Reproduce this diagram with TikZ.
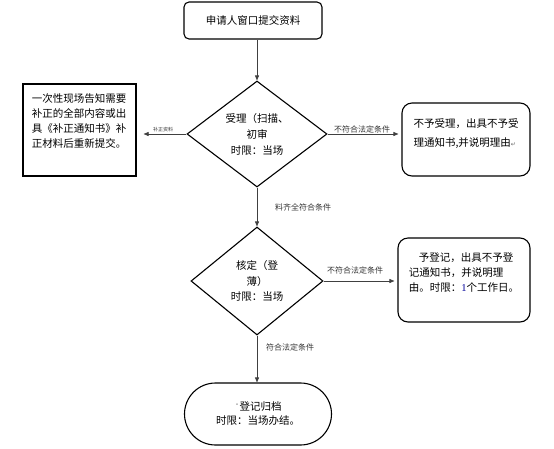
\documentclass[tikz,border=0pt]{standalone}
\usepackage{fontspec}
\setmainfont{Noto Sans CJK SC}
\newfontfamily\dejavu{DejaVu Sans}
\newfontfamily\serifnum{Liberation Serif}
\usetikzlibrary{shapes.geometric,arrows.meta}
\begin{document}
\begin{tikzpicture}[x=1pt,y=-1pt,
  boxline/.style={draw=black,line width=1.1pt,inner sep=0pt},
  rbox/.style={boxline,rounded corners=5pt},
  softbox/.style={boxline,rounded corners=10pt},
  pill/.style={boxline,rounded corners=31pt},
  decision/.style={diamond,draw=black,line width=1.1pt,inner sep=0pt,aspect=1.33,align=center,
     font=\fontsize{10.5pt}{16pt}\selectfont},
  bodytext/.style={inner sep=0pt,align=left,font=\fontsize{10.5pt}{15pt}\selectfont},
  conn/.style={draw=black!75,line width=0.6pt,-{Triangle[length=5pt,width=4pt]}},
  lbl/.style={inner sep=0pt,text=black!80,font=\fontsize{8pt}{9pt}\selectfont}
]
\useasboundingbox (0,0) rectangle (554,448);

% top box
\node[rbox,minimum width=138pt,minimum height=37pt,font=\fontsize{10.5pt}{12pt}\selectfont] (top) at (253,20.5) {申请人窗口提交资料};

% decision 1
\node[decision,minimum width=140pt,minimum height=106pt] (d1) at (257,134) {受理（扫描、\\初审\\时限：当场};

% left box
\node[boxline,minimum width=113pt,minimum height=92pt] (lb) at (79.5,130) {};
\node[bodytext] (lbt) at (79,121.5) {一次性现场告知需要\\补正的全部内容或出\\具《补正通知书》补\\正材料后重新提交。};

% right box 1
\node[softbox,minimum width=128pt,minimum height=73pt] (rb1) at (466,139.5) {};
\node[bodytext,font=\fontsize{10.5pt}{19pt}\selectfont] (rb1t) at (466,133.5) {不予受理，出具不予受\\理通知书,并说明理由{\dejavu\fontsize{6pt}{6pt}\selectfont\color{black!60}↵}};

% decision 2
\node[decision,minimum width=132pt,minimum height=108pt,font=\fontsize{10.5pt}{15.5pt}\selectfont] (d2) at (257,281) {核定（登\\薄）\\时限：当场};

% right box 2
\node[softbox,minimum width=132pt,minimum height=84pt] (rb2) at (464,280) {};
\node[bodytext,font=\fontsize{10.5pt}{15pt}\selectfont] (rb2t) at (464,273) {\hspace{10pt}予登记，出具不予登\\记通知书，并说明理\\由。时限：{\serifnum\color{blue!60!black}1}个工作日。};

% bottom pill
\node[pill,minimum width=147pt,minimum height=62pt,align=center,font=\fontsize{10.5pt}{14pt}\selectfont] (bot) at (258,414) {\raisebox{4pt}{\fontsize{5pt}{5pt}\selectfont ·}登记归档\\时限：当场办结。};

% connectors
\draw[conn] (d1.north |- top.south) -- (d1.north);
\draw[conn,shorten >=7pt] (d1.west) -- (lb.east |- d1.west);
\draw[conn,shorten >=3pt] (d1.east) -- (rb1.west |- d1.east);
\draw[conn] (d1.south) -- (d2.north);
\draw[conn,shorten >=3pt] (d2.east) -- (rb2.west |- d2.east);
\draw[conn] (d2.south) -- (bot.north -| d2.south);

% connector labels
\node[lbl,font=\fontsize{5pt}{6pt}\selectfont] (l1) at (163,130) {补正资料};
\node[lbl] (l2) at (362,129) {不符合法定条件};
\node[lbl] (l3) at (303,207) {料齐全符合条件};
\node[lbl] (l4) at (355,270) {不符合法定条件};
\node[lbl] (l5) at (290,347) {符合法定条件};
\end{tikzpicture}
\end{document}
